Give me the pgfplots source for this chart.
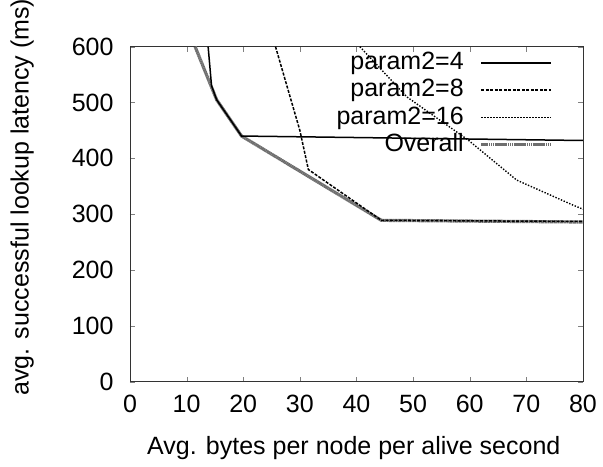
\documentclass[border=0pt]{standalone}
\usepackage{fontspec}
\setmainfont{Liberation Sans}
\usepackage{pgfplots}
\pgfplotsset{compat=1.18}
\definecolor{ovgray}{RGB}{110,110,110}
\begin{document}
\fontsize{25bp}{30bp}\selectfont
\begin{tikzpicture}
\tikzset{overallstyle/.style={color=ovgray, line width=3.2bp, dash pattern=on 1.5bp off 0.4bp}}
\begin{axis}[
  name=ax,
  scale only axis,
  width=453bp, height=335bp,
  xmin=0, xmax=80, ymin=0, ymax=600,
  xtick={0,10,...,80}, ytick={0,100,...,600},
  tick align=inside,
  major tick length=5bp,
  axis line style={line width=0.8bp, color=black!80},
  /pgf/number format/assume math mode=true,
  yticklabel style={xshift=-8bp},
  xticklabel style={yshift=-5bp},
  xlabel={Avg. bytes per node per alive second},
  ylabel={avg. successful lookup latency (ms)},
  every axis y label/.style={at={(axis description cs:-0.238,0.551)}, rotate=90, anchor=center},
  every axis x label/.style={at={(axis description cs:0.494,-0.198)}, anchor=center},
  legend plot pos=right,
  legend cell align=right,
  legend style={draw=none, fill=none, at={(axis description cs:0.934,0.99)}, anchor=north east, row sep=2bp, column sep=14bp, inner sep=0pt},
  legend image code/.code={\draw[#1] (0bp,0bp) -- (70bp,0bp);},
]
\addplot[overallstyle, forget plot] coordinates {(11.5,600) (15.3,505) (19.7,440) (44.4,289) (80,286)};
\addplot[black, line width=1.5bp] coordinates {(13.8,600) (14.4,530) (15.3,505) (19.7,440) (80,432)};
\addlegendentry{param2=4}
\addplot[black, line width=1.5bp, dash pattern=on 3bp off 1.5bp] coordinates {(25.7,600) (30,450) (31.5,380) (44.4,289) (80,287)};
\addlegendentry{param2=8}
\addplot[black, line width=1.4bp, dash pattern=on 1.4bp off 1.6bp] coordinates {(40.6,600) (48.9,510) (59.7,433) (68.3,361) (78.3,316) (80,309)};
\addlegendentry{param2=16}
\addlegendimage{overallstyle}
\addlegendentry{Overall}
\end{axis}
\pgfresetboundingbox
\path (ax.south west) ++(-130bp,-85.3bp) rectangle ++(603bp,467bp);
\end{tikzpicture}
\end{document}
